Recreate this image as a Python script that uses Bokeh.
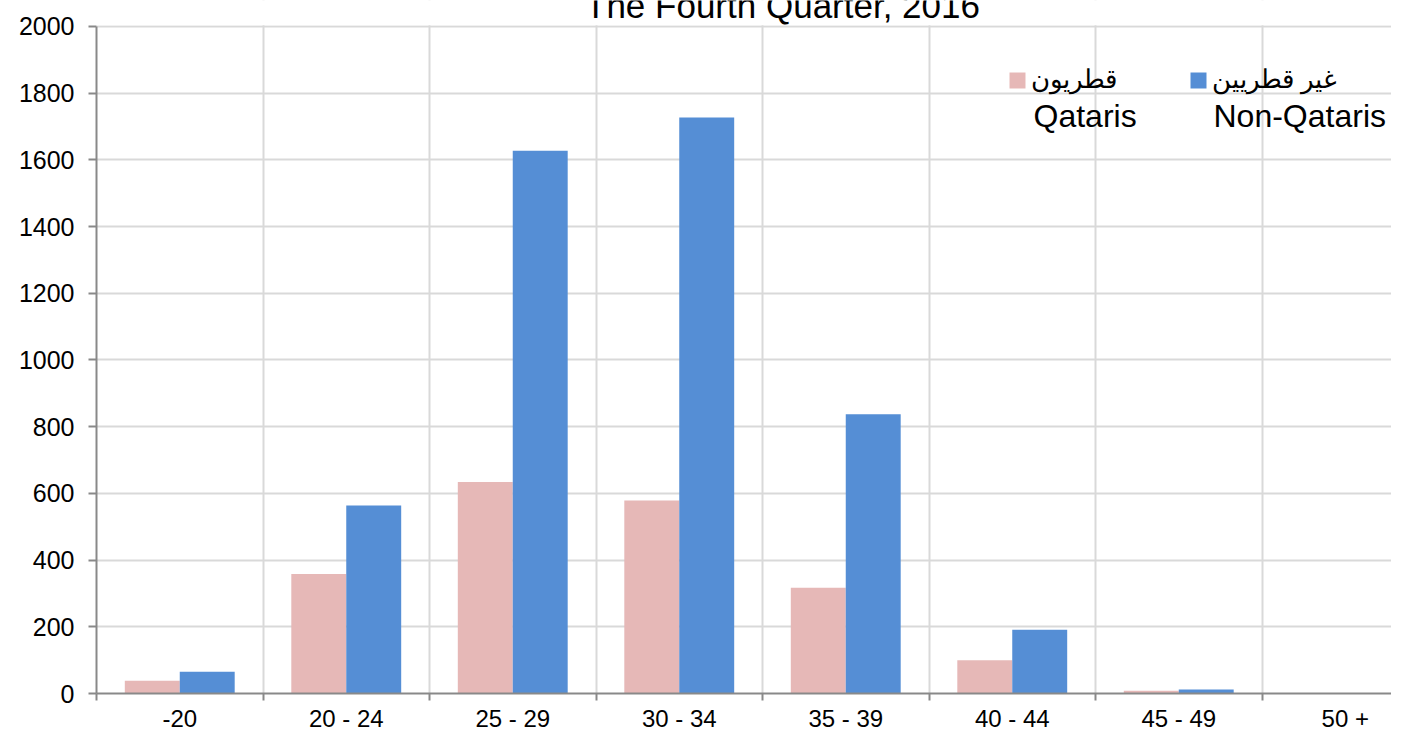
import numpy as np
from bokeh.plotting import figure
from bokeh.models import (ColumnDataSource, Range1d, FixedTicker, Legend, LegendItem, Label,
                          BoxAnnotation)
from bokeh.transform import dodge
from bokeh.embed import file_html
from bokeh.resources import INLINE

# ---- data ----
categories = ["-20", "20 - 24", "25 - 29", "30 - 34", "35 - 39", "40 - 44", "45 - 49", "50 +"]
qataris = [38, 358, 634, 579, 317, 100, 8, 0]
non_qataris = [65, 564, 1627, 1727, 837, 191, 12, 0]
y_ticks = [0, 200, 400, 600, 800, 1000, 1200, 1400, 1600, 1800, 2000]
title_text = "The Fourth Quarter, 2016"
label_q_ar = "قطريون"
label_nq_ar = "غير قطريين"
label_q_en = "Qataris"
label_nq_en = "Non-Qataris"

PINK = "#E6B8B7"
BLUE = "#558ED5"
AXIS = "#898989"
GRID = "#D9D9D9"
FONT = "Liberation Sans"

centers = [i + 0.5 for i in range(len(categories))]
bounds = list(range(len(categories) + 1))
y_max = y_ticks[-1]

src = ColumnDataSource(dict(x=centers, q=qataris, nq=non_qataris))

W, H = 1391, 734
LEFT, TOP = 96, 26
B = 694  # frame bottom (screen px from top)
y_end = y_max * B / (B - TOP)

p = figure(width=W, height=H, output_backend="svg", toolbar_location=None,
           x_range=Range1d(0, (W - LEFT) / 166.5), y_range=Range1d(0, y_end),
           min_border_left=LEFT, min_border_top=0, min_border_right=0, min_border_bottom=20)
p.outline_line_color = None
p.background_fill_color = "white"

bw = 0.33
rq = p.vbar(x=dodge("x", -bw / 2, range=p.x_range), top="q", width=bw, source=src,
            fill_color=PINK, line_color=None)
rn = p.vbar(x=dodge("x", bw / 2, range=p.x_range), top="nq", width=bw, source=src,
            fill_color=BLUE, line_color=None)

# x axis: labels at centers, tick marks (minor) at boundaries
p.xaxis.ticker = FixedTicker(ticks=centers, minor_ticks=bounds)
p.xaxis.major_label_overrides = {c: lab for c, lab in zip(centers, categories)}
p.xaxis.major_tick_out = 0
p.xaxis.major_tick_in = 0
p.xaxis.minor_tick_out = 7
p.xaxis.minor_tick_in = 0
p.xaxis.minor_tick_line_color = AXIS
p.xaxis.minor_tick_line_width = 2
p.xaxis.axis_line_color = AXIS
p.xaxis.axis_line_width = 2
p.xaxis.major_label_text_font = FONT
p.xaxis.major_label_text_font_size = "24px"
p.xaxis.major_label_text_color = "black"
p.xaxis.major_label_standoff = 4

p.yaxis.ticker = FixedTicker(ticks=y_ticks)
p.yaxis.bounds = (0, y_max)
p.yaxis.major_tick_out = 8
p.yaxis.major_tick_in = 0
p.yaxis.minor_tick_line_color = None
p.yaxis.major_tick_line_color = AXIS
p.yaxis.major_tick_line_width = 2
p.yaxis.axis_line_color = AXIS
p.yaxis.axis_line_width = 2
p.yaxis.major_label_text_font = FONT
p.yaxis.major_label_text_font_size = "25px"
p.yaxis.major_label_text_color = "black"
p.yaxis.major_label_standoff = 14

p.xgrid.ticker = FixedTicker(ticks=bounds[1:])
p.xgrid.grid_line_color = GRID
p.xgrid.grid_line_width = 2
p.ygrid.ticker = FixedTicker(ticks=y_ticks)
p.ygrid.grid_line_color = GRID
p.ygrid.grid_line_width = 2

# blank area above the top gridline (where the title sits)
p.add_layout(BoxAnnotation(bottom=y_max + 4, fill_color="white", fill_alpha=1.0,
                           line_color=None))

def make_legend(label, r, loc):
    lg = Legend(items=[LegendItem(label=label, renderers=[r])], location=loc,
                glyph_width=20, glyph_height=20, label_standoff=4, padding=0, margin=0,
                spacing=0, border_line_color=None, background_fill_alpha=0,
                label_text_font=FONT, label_text_font_size="26px", label_text_color="black")
    p.add_layout(lg)

make_legend(label_q_ar, rq, (1007 - LEFT, B - 96))
make_legend(label_nq_ar, rn, (1188 - LEFT, B - 96))

DY = 11  # empirical baseline correction
p.add_layout(Label(x=1033 - LEFT, y=B - 127 + DY, x_units="screen", y_units="screen", text=label_q_en,
                   text_font=FONT, text_font_size="32px", text_color="black",
                   text_align="left", text_baseline="alphabetic"))
p.add_layout(Label(x=1213 - LEFT, y=B - 127 + DY, x_units="screen", y_units="screen", text=label_nq_en,
                   text_font=FONT, text_font_size="32px", text_color="black",
                   text_align="left", text_baseline="alphabetic"))
p.add_layout(Label(x=782 - LEFT, y=B - 18 + DY + 1, x_units="screen", y_units="screen", text=title_text,
                   text_font=FONT, text_font_size="35px", text_color="black",
                   text_align="center", text_baseline="alphabetic"))

open("out.html", "w").write(file_html(p, INLINE))
